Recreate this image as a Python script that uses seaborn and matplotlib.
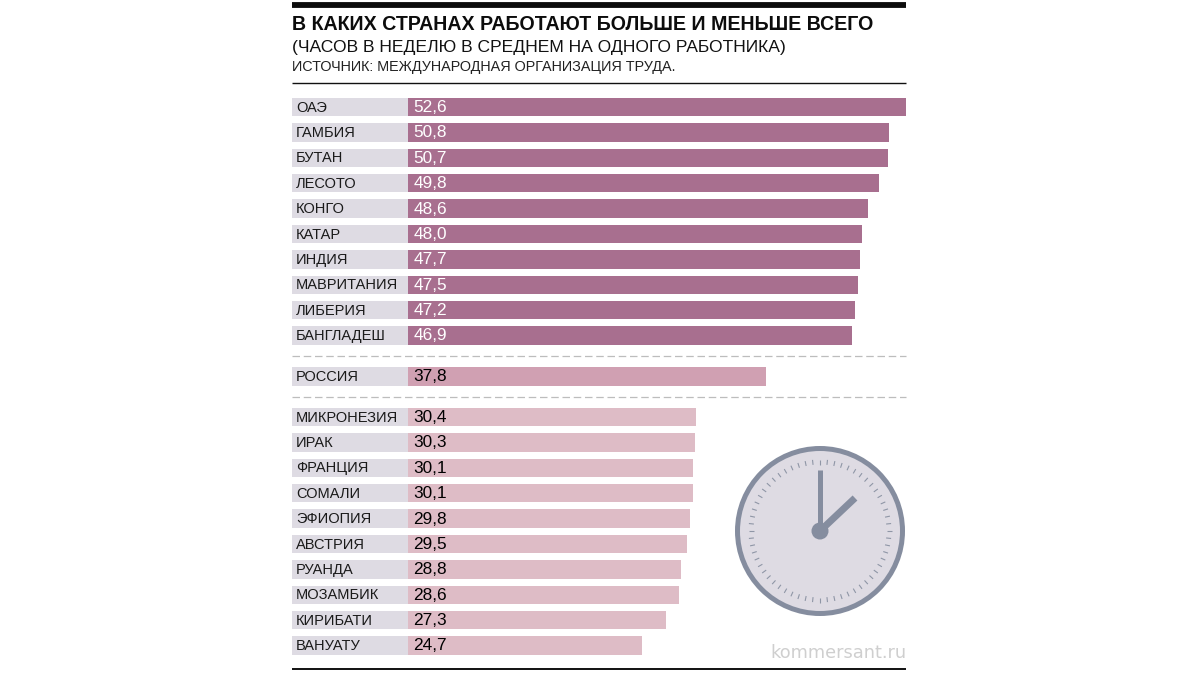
import numpy as np
import pandas as pd
import matplotlib
matplotlib.use("Agg")
import matplotlib.pyplot as plt
from matplotlib.patches import Circle
import seaborn as sns

top_names = ["ОАЭ", "ГАМБИЯ", "БУТАН", "ЛЕСОТО", "КОНГО", "КАТАР", "ИНДИЯ", "МАВРИТАНИЯ", "ЛИБЕРИЯ", "БАНГЛАДЕШ"]
top_values = [52.6, 50.8, 50.7, 49.8, 48.6, 48.0, 47.7, 47.5, 47.2, 46.9]
mid_names = ["РОССИЯ"]
mid_values = [37.8]
low_names = ["МИКРОНЕЗИЯ", "ИРАК", "ФРАНЦИЯ", "СОМАЛИ", "ЭФИОПИЯ", "АВСТРИЯ", "РУАНДА", "МОЗАМБИК", "КИРИБАТИ", "ВАНУАТУ"]
low_values = [30.4, 30.3, 30.1, 30.1, 29.8, 29.5, 28.8, 28.6, 27.3, 24.7]

sns.set_theme(style="white")
plt.rcParams["font.family"] = ["Liberation Sans", "DejaVu Sans"]

PITCH = 25.4
top_y = [107 + i * PITCH for i in range(len(top_names))]
mid_y = [376.5]
low_y = [417 + i * PITCH for i in range(len(low_names))]

df = pd.DataFrame({
    "name": top_names + mid_names + low_names,
    "value": top_values + mid_values + low_values,
    "y": np.round(top_y + mid_y + low_y, 1),
    "group": ["top"] * len(top_names) + ["mid"] * len(mid_names) + ["low"] * len(low_names),
})

fig = plt.figure(figsize=(12, 6.75), dpi=100, facecolor="white")
px = fig.add_axes([0, 0, 1, 1])
px.set_xlim(0, 1200)
px.set_ylim(675, 0)
px.axis("off")

# label backgrounds and rules
px.barh(df["y"], [116] * len(df), left=292, height=18.5, color="#DEDBE3", lw=0)
px.plot([292, 906], [4.5, 4.5], color="#0c0c0c", lw=4.2, solid_capstyle="butt")
px.plot([292, 906], [83, 83], color="#111111", lw=1.0, solid_capstyle="butt")
px.plot([292, 906], [669, 669], color="#111111", lw=1.4, solid_capstyle="butt")
for yy in (356, 396.5):
    px.plot([292, 906], [yy, yy], color="#bdbdbd", lw=0.9, dashes=(6, 3))

# bars
ax = fig.add_axes([408 / 1200, 0, 498 / 1200, 1])
ax.patch.set_alpha(0)
sns.barplot(data=df, x="value", y="y", hue="group", orient="y", native_scale=True,
            dodge=False, width=18.5 / 25.4, legend=False, ax=ax, saturation=1, linewidth=0,
            palette={"top": "#A86F8F", "mid": "#D0A0B2", "low": "#DEBCC6"})
ax.set_xlim(0, 52.6)
ax.set_ylim(675, 0)
ax.axis("off")

for _, r in df.iterrows():
    px.text(296, r["y"] + 0.6, r["name"], fontsize=10.5, color="#1a1a1a", va="center", ha="left")
    ax.text(0.55, r["y"] + 0.4, f"{r['value']:.1f}".replace(".", ","), fontsize=12.4,
            color="white" if r["group"] == "top" else "black", va="center", ha="left")

# header
px.text(292, 24, "В КАКИХ СТРАНАХ РАБОТАЮТ БОЛЬШЕ И МЕНЬШЕ ВСЕГО", fontsize=14.15,
        fontweight="bold", color="#0c0c0c", va="center")
px.text(292, 47.5, "(ЧАСОВ В НЕДЕЛЮ В СРЕДНЕМ НА ОДНОГО РАБОТНИКА)", fontsize=12.6,
        color="#111111", va="center")
px.text(292, 67.5, "ИСТОЧНИК: МЕЖДУНАРОДНАЯ ОРГАНИЗАЦИЯ ТРУДА.", fontsize=10.35,
        color="#222222", va="center")
px.text(906, 653, "kommersant.ru", fontsize=12.8, color="#cfcfcf", va="center", ha="right",
        family="DejaVu Sans")

# clock
cx, cy = 820, 531
px.add_patch(Circle((cx, cy), 82.5, fc="#DEDBE3", ec="#858D9F", lw=3.6))
for a in np.deg2rad(np.arange(0, 360, 6)):
    px.plot([cx + 66.5 * np.cos(a), cx + 71.5 * np.cos(a)], [cy + 66.5 * np.sin(a), cy + 71.5 * np.sin(a)],
            color="#8f96a6", lw=0.8, solid_capstyle="butt")
px.plot([cx, cx], [cy, 470], color="#858D9F", lw=3.6, solid_capstyle="butt")
px.plot([cx, 855], [cy, 498], color="#858D9F", lw=5.0, solid_capstyle="butt")
px.add_patch(Circle((cx, cy), 8.5, fc="#858D9F", ec="none"))

fig.savefig("out.png", dpi=100)
